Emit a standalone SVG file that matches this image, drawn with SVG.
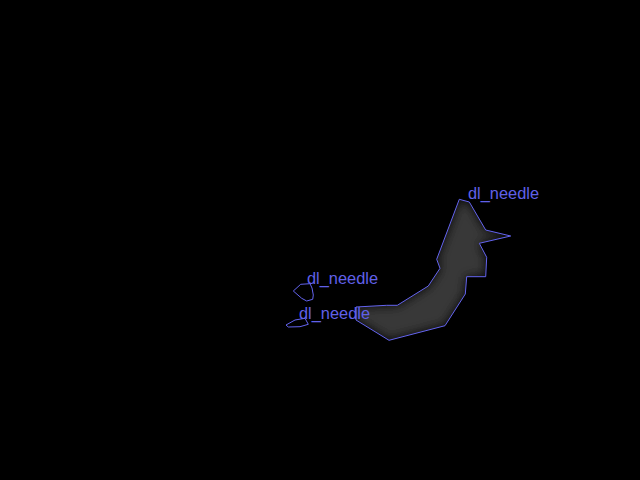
<svg xmlns="http://www.w3.org/2000/svg" width="640" height="480" viewBox="0 0 640 480">
<defs>
<style>
.outline{fill:none;stroke:#6464f0;stroke-width:1}
.lbl{font-family:"Liberation Sans",Arial,sans-serif;font-size:16.4px;fill:#6060e8}
</style>
<filter id="blur" x="-20%" y="-20%" width="140%" height="140%"><feGaussianBlur stdDeviation="5.5"/></filter>
<clipPath id="c1"><polygon points="459.3,199.3 469.3,202 485.7,230 510.7,236 479.3,243.3 486.7,257.3 485.7,276.7 466.7,276.7 465.3,294 445,325.7 389,340.3 356,320 356,307 386.7,305.3 397.3,305.3 428.3,286 440,268.3 436.7,259.3"/></clipPath>
</defs>
<rect width="640" height="480" fill="#000"/>
<g id="needle1">
<g clip-path="url(#c1)"><polygon points="459.3,199.3 469.3,202 485.7,230 510.7,236 479.3,243.3 486.7,257.3 485.7,276.7 466.7,276.7 465.3,294 445,325.7 389,340.3 356,320 356,307 386.7,305.3 397.3,305.3 428.3,286 440,268.3 436.7,259.3" fill="#383838" filter="url(#blur)"/></g>
<polygon class="outline" points="459.3,199.3 469.3,202 485.7,230 510.7,236 479.3,243.3 486.7,257.3 485.7,276.7 466.7,276.7 465.3,294 445,325.7 389,340.3 356,320 356,307 386.7,305.3 397.3,305.3 428.3,286 440,268.3 436.7,259.3"/>
<text class="lbl" x="468" y="199">dl_needle</text>
</g>
<g id="needle2">
<polygon class="outline" points="293.3,291 300.7,284.3 310,283.7 312,288 313.3,295 312.7,299.3 306.7,301 301.7,298.3"/>
<text class="lbl" x="307" y="284">dl_needle</text>
</g>
<g id="needle3">
<polygon class="outline" points="286,325 295,320 305,318.3 308.3,324.3 300,326.7 288.3,327"/>
<text class="lbl" x="299" y="319">dl_needle</text>
</g>
<g id="connectors"/>
</svg>
